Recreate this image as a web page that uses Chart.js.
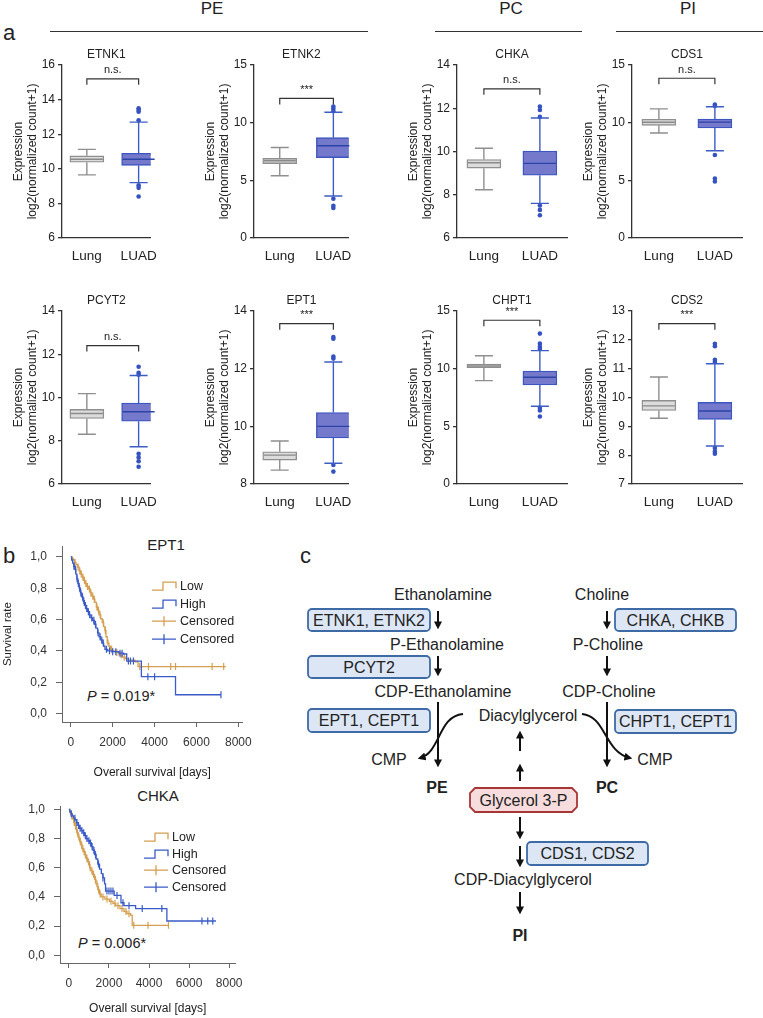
<!DOCTYPE html>
<html>
<head>
<meta charset="utf-8">
<script src="https://cdn.jsdelivr.net/npm/chart.js@4.4.1/dist/chart.umd.min.js"></script>
<style>
  body { margin: 0; background: #fff; }
  #page { position: relative; width: 763px; height: 1018px; overflow: hidden; font-family: "Liberation Sans", Arial, sans-serif; color: #222; }
  canvas { position: absolute; }
  #art { position: absolute; left: 0; top: 0; pointer-events: none; }
</style>
</head>
<body>
<div id="page">
<svg id="art" width="763" height="1018" font-family="Liberation Sans, Arial, sans-serif" fill="#222">
  <defs>
    <marker id="ah" viewBox="0 0 10 10" refX="7" refY="5" markerWidth="4" markerHeight="4" orient="auto">
      <path d="M0,0 L10,5 L0,10 z" fill="#111"/>
    </marker>
  </defs>
  <!-- panel letters and group headers -->
  <g font-size="22"><text x="3" y="40">a</text><text x="3" y="563">b</text><text x="300" y="563">c</text></g>
  <g font-size="17" text-anchor="middle"><text x="212" y="14">PE</text><text x="511" y="14">PC</text><text x="688" y="14">PI</text></g>
  <g stroke="#333" stroke-width="1.2"><line x1="50" y1="31.5" x2="368" y2="31.5"/><line x1="435" y1="31.5" x2="582" y2="31.5"/><line x1="616" y1="31.5" x2="763" y2="31.5"/></g>
  <!-- panel b titles and p values -->
  <g font-size="15" text-anchor="middle"><text x="166" y="550">EPT1</text><text x="158" y="801">CHKA</text></g>
  <g font-size="14.5"><text x="87" y="701"><tspan font-style="italic">P</tspan> = 0.019*</text><text x="78" y="948"><tspan font-style="italic">P</tspan> = 0.006*</text></g>
  <!-- panel c pathway -->
  <g fill="#dce6f4" stroke="#3e6aa6" stroke-width="1.8">
    <rect x="308" y="609" width="122" height="22" rx="4"/>
    <rect x="308" y="656" width="122" height="22" rx="4"/>
    <rect x="308" y="709" width="122" height="23" rx="4"/>
    <rect x="615" y="609" width="121" height="22" rx="4"/>
    <rect x="615" y="710" width="121" height="23" rx="4"/>
    <rect x="527" y="842" width="121" height="23" rx="4"/>
  </g>
  <polygon points="475,788 572,788 577,793 577,807 572,812 475,812 470,807 470,793" fill="#f6dcdc" stroke="#a83535" stroke-width="1.8"/>
  <g font-size="16" text-anchor="middle" dominant-baseline="central">
    <text x="443" y="594">Ethanolamine</text>
    <text x="369" y="620">ETNK1, ETNK2</text>
    <text x="447" y="644">P-Ethanolamine</text>
    <text x="369" y="667">PCYT2</text>
    <text x="443" y="691">CDP-Ethanolamine</text>
    <text x="369" y="720.5">EPT1, CEPT1</text>
    <text x="528" y="715">Diacylglycerol</text>
    <text x="389" y="759">CMP</text>
    <text x="437" y="787" font-weight="bold">PE</text>
    <text x="602" y="594">Choline</text>
    <text x="675.5" y="620">CHKA, CHKB</text>
    <text x="608" y="644">P-Choline</text>
    <text x="609" y="691">CDP-Choline</text>
    <text x="675.5" y="721.5">CHPT1, CEPT1</text>
    <text x="655" y="759">CMP</text>
    <text x="607" y="787" font-weight="bold">PC</text>
    <text x="523.5" y="800">Glycerol 3-P</text>
    <text x="587.5" y="853.5">CDS1, CDS2</text>
    <text x="523" y="879">CDP-Diacylglycerol</text>
    <text x="520" y="935" font-weight="bold">PI</text>
  </g>
  <g stroke="#111" stroke-width="2" fill="none" marker-end="url(#ah)">
    <line x1="438" y1="611" x2="438" y2="627"/>
    <line x1="438" y1="656" x2="438" y2="674"/>
    <line x1="438" y1="702" x2="438" y2="765"/>
    <line x1="607" y1="611" x2="607" y2="627"/>
    <line x1="607" y1="656" x2="607" y2="674"/>
    <line x1="607" y1="702" x2="607" y2="765"/>
    <line x1="520" y1="751" x2="520" y2="733"/>
    <line x1="520" y1="781" x2="520" y2="766"/>
    <line x1="520" y1="817" x2="520" y2="837"/>
    <line x1="520" y1="846" x2="520" y2="865"/>
    <line x1="520" y1="892" x2="520" y2="912"/>
    <path d="M463,714 C438,716 441,752 420,758"/>
    <path d="M582,714 C606,716 604,752 630,758"/>
  </g>
</svg>
</div>
<script>
// ---------- panel a: expression box plots ----------
const genes = ['ETNK1', 'ETNK2', 'CHKA', 'CDS1', 'PCYT2', 'EPT1', 'CHPT1', 'CDS2'];
const groups = ['Lung', 'LUAD'];
// [lower whisker, Q1, median, Q3, upper whisker]
const lungBox = [
  [9.65, 10.38, 10.55, 10.75, 11.12],
  [5.4, 6.45, 6.7, 6.9, 7.85],
  [8.23, 9.23, 9.48, 9.63, 10.15],
  [9.1, 9.77, 10.03, 10.3, 11.2],
  [8.3, 9.03, 9.26, 9.45, 10.18],
  [8.48, 8.83, 9.0, 9.12, 9.49],
  [8.96, 10.08, 10.23, 10.4, 11.12],
  [9.28, 9.55, 9.71, 9.9, 10.71]
];
const luadBox = [
  [9.2, 10.2, 10.55, 10.9, 12.7],
  [3.64, 6.97, 8.0, 8.7, 10.9],
  [7.6, 8.9, 9.45, 10.02, 11.55],
  [7.57, 9.54, 10.05, 10.32, 11.38],
  [7.72, 8.9, 9.34, 9.74, 11.02],
  [8.72, 9.6, 10.0, 10.48, 12.23],
  [6.74, 8.59, 9.25, 9.8, 11.56],
  [8.32, 9.24, 9.53, 9.83, 11.17]
];
const luadOutliers = [
  [13.5, 13.4, 13.3, 12.8, 9.05, 8.9, 8.4],
  [11.4, 11.2, 11.0, 3.4, 2.8, 2.6],
  [12.08, 11.92, 11.6, 7.5, 7.3, 7.05],
  [11.58, 11.45, 7.2, 5.15, 4.9],
  [11.42, 11.14, 11.05, 7.4, 7.23, 7.05, 6.8],
  [13.1, 13.04, 12.42, 12.35, 8.66, 8.43],
  [13.04, 12.17, 11.9, 11.7, 6.6, 6.37, 5.85],
  [11.86, 11.78, 11.31, 11.23, 8.25, 8.13, 8.05]
];
const sigLabels = ['n.s.', '***', 'n.s.', 'n.s.', 'n.s.', '***', '***', '***'];
const sigLevel = [15.2, 12.1, 12.9, 13.85, 12.4, 13.56, 14.2, 12.56];
const boxTicks = [
  [6, 8, 10, 12, 14, 16],
  [0, 5, 10, 15],
  [6, 8, 10, 12, 14],
  [0, 5, 10, 15],
  [6, 8, 10, 12, 14],
  [8, 10, 12, 14],
  [0, 5, 10, 15],
  [7, 8, 9, 10, 11, 12, 13]
];

// ---------- panel b: Kaplan-Meier curves ----------
const kmGenes = ['EPT1', 'CHKA'];
const kmLegend = ['Low', 'High', 'Censored', 'Censored'];
const kmXTicks = [0, 2000, 4000, 6000, 8000];
const kmYTicks = [0, 0.2, 0.4, 0.6, 0.8, 1.0];
// [days, survival] at each step
const ept1Low = [
  [0, 1.0], [60, 0.99], [120, 0.98], [180, 0.965], [250, 0.95], [320, 0.935], [400, 0.91], [470, 0.89],
  [540, 0.87], [610, 0.85], [680, 0.83], [760, 0.81], [850, 0.795], [930, 0.77], [1000, 0.75], [1080, 0.73],
  [1150, 0.71], [1220, 0.68], [1280, 0.66], [1350, 0.63], [1430, 0.605], [1500, 0.58], [1570, 0.555],
  [1630, 0.53], [1680, 0.49], [1740, 0.45], [1820, 0.43], [1900, 0.41], [2000, 0.40], [2130, 0.39],
  [2300, 0.375], [2440, 0.36], [2600, 0.35], [2750, 0.34], [3060, 0.33], [3210, 0.30], [7400, 0.30]
];
const ept1High = [
  [0, 1.0], [40, 0.98], [90, 0.96], [140, 0.94], [190, 0.92], [240, 0.89], [290, 0.86], [340, 0.83],
  [400, 0.80], [460, 0.77], [520, 0.745], [580, 0.72], [650, 0.69], [730, 0.67], [800, 0.65], [880, 0.63],
  [960, 0.61], [1040, 0.595], [1120, 0.57], [1200, 0.545], [1280, 0.515], [1350, 0.49], [1420, 0.47],
  [1500, 0.45], [1570, 0.43], [1630, 0.41], [1760, 0.40], [1970, 0.395], [2300, 0.385], [2520, 0.38],
  [2670, 0.335], [3370, 0.235], [5000, 0.12], [7170, 0.12]
];
const ept1LowCens = [200, 350, 430, 500, 580, 650, 720, 800, 890, 960, 1050, 1120, 1250, 1320, 1400, 1550,
  1650, 1780, 1950, 2200, 2400, 2550, 3290, 3710, 4770, 5000, 6750, 7300];
const ept1HighCens = [150, 230, 300, 360, 420, 480, 560, 620, 700, 760, 840, 900, 1000, 1100, 1180, 1300,
  1400, 1480, 1550, 1700, 1850, 2000, 2150, 2350, 2450, 2750, 2850, 2990, 3680, 4000, 7170];
const chkaLow = [
  [0, 1.0], [40, 0.98], [90, 0.965], [130, 0.955], [180, 0.935], [240, 0.91], [295, 0.89], [350, 0.865],
  [400, 0.84], [460, 0.81], [540, 0.78], [600, 0.755], [660, 0.73], [730, 0.71], [790, 0.69], [860, 0.665],
  [930, 0.64], [1030, 0.60], [1100, 0.58], [1180, 0.555], [1280, 0.52], [1350, 0.49], [1440, 0.45],
  [1520, 0.42], [1610, 0.40], [1800, 0.385], [2020, 0.37], [2200, 0.355], [2340, 0.34], [2550, 0.32],
  [2750, 0.30], [2900, 0.285], [3080, 0.275], [3160, 0.205], [4970, 0.205]
];
const chkaHigh = [
  [0, 1.0], [50, 0.985], [110, 0.97], [170, 0.955], [240, 0.94], [310, 0.93], [380, 0.91], [450, 0.89],
  [530, 0.87], [610, 0.855], [700, 0.84], [780, 0.82], [860, 0.80], [950, 0.785], [1030, 0.77], [1120, 0.745],
  [1200, 0.72], [1280, 0.69], [1360, 0.66], [1440, 0.625], [1530, 0.59], [1620, 0.56], [1700, 0.53],
  [1780, 0.49], [1830, 0.44], [2260, 0.41], [2600, 0.36], [2750, 0.34], [3330, 0.32], [4890, 0.235], [7340, 0.235]
];
const chkaLowCens = [150, 270, 330, 380, 430, 500, 570, 640, 700, 760, 820, 900, 980, 1060, 1150, 1230, 1320,
  1400, 1480, 1560, 1700, 1900, 2100, 2300, 2450, 2650, 2850, 3000, 3240, 3950, 4970];
const chkaHighCens = [120, 300, 400, 480, 560, 650, 740, 820, 900, 1000, 1080, 1160, 1250, 1330, 1480, 1700,
  1900, 2000, 2100, 2200, 2400, 2700, 3000, 3660, 4640, 6640, 6930, 7180];

// ---------- layout and styles ----------
Chart.defaults.font.family = '"Liberation Sans", Arial, sans-serif';
Chart.defaults.color = '#222';
Chart.defaults.animation = false;

const AXIS = '#333';
const BOX_FILL = ['#dcdcdc', '#7479cc'];
const BOX_LINE = ['#8f8f8f', '#3d55bf'];
const WHISKER = ['#8f8f8f', '#3d5cc4'];
const MEDIAN = ['#8a8a8a', '#2c44a8'];
const DOT = '#3552c0';
const ORANGE = '#d49f52';
const BLUE = '#3a5bc8';

const colAxisX = [62, 254, 457, 632];
const colPlotW = [96, 99, 110, 110];
const rowTop = [65, 311];
const PLOT_H = 173;
const TOP_H = 25;
const Y_AXIS_W = 62;
const X_AXIS_H = 30;
const X_MIN = 0.52;
const X_UNIT = 56;
const CAP = 9;

const page = document.getElementById('page');

function addCanvas(left, top, w, h) {
  const c = document.createElement('canvas');
  c.width = w;
  c.height = h;
  c.style.left = left + 'px';
  c.style.top = top + 'px';
  page.appendChild(c);
  return c;
}

function boxParts(i) {
  return {
    id: 'boxParts',
    afterDatasetsDraw(chart) {
      const { ctx, chartArea, scales: { x, y } } = chart;
      const py = v => y.getPixelForValue(v);
      ctx.save();
      [lungBox[i], luadBox[i]].forEach((s, k) => {
        const cx = x.getPixelForValue(k + 1);
        ctx.strokeStyle = WHISKER[k];
        ctx.lineWidth = 1.4;
        ctx.beginPath();
        ctx.moveTo(cx, py(s[0])); ctx.lineTo(cx, py(s[1]));
        ctx.moveTo(cx, py(s[3])); ctx.lineTo(cx, py(s[4]));
        ctx.moveTo(cx - CAP, py(s[0])); ctx.lineTo(cx + CAP, py(s[0]));
        ctx.moveTo(cx - CAP, py(s[4])); ctx.lineTo(cx + CAP, py(s[4]));
        ctx.stroke();
        ctx.strokeStyle = MEDIAN[k];
        ctx.beginPath();
        ctx.moveTo(cx - 16, py(s[2])); ctx.lineTo(cx + 16, py(s[2]));
        ctx.stroke();
      });
      // significance bracket
      const x1 = x.getPixelForValue(1), x2 = x.getPixelForValue(2), by = py(sigLevel[i]);
      ctx.strokeStyle = AXIS;
      ctx.lineWidth = 1.2;
      ctx.beginPath();
      ctx.moveTo(x1, by + 6); ctx.lineTo(x1, by); ctx.lineTo(x2, by); ctx.lineTo(x2, by + 6);
      ctx.stroke();
      ctx.fillStyle = '#222';
      ctx.font = '11px "Liberation Sans", Arial, sans-serif';
      ctx.textAlign = 'center';
      ctx.textBaseline = 'bottom';
      ctx.fillText(sigLabels[i], (x1 + x2) / 2, by - 3);
      // gene name centred over the plot
      ctx.font = '12px "Liberation Sans", Arial, sans-serif';
      ctx.textBaseline = 'middle';
      ctx.fillText(genes[i], (chartArea.left + chartArea.right) / 2, chartArea.top - 10);
      ctx.restore();
    }
  };
}

function drawBox(i) {
  const col = i % 4, row = Math.floor(i / 4);
  const plotW = colPlotW[col];
  const ticks = boxTicks[i];
  const cv = addCanvas(colAxisX[col] - Y_AXIS_W, rowTop[row] - TOP_H, Y_AXIS_W + plotW + 10, TOP_H + PLOT_H + X_AXIS_H);
  new Chart(cv, {
    type: 'bar',
    data: {
      datasets: [
        {
          data: [lungBox[i], luadBox[i]].map((s, k) => ({ x: k + 1, y: [s[1], s[3]] })),
          backgroundColor: BOX_FILL,
          borderColor: BOX_LINE,
          borderWidth: 1.4,
          borderSkipped: false,
          barThickness: 34,
          order: 2
        },
        {
          type: 'scatter',
          data: luadOutliers[i].map(v => ({ x: 2, y: v })),
          pointRadius: 2.3,
          backgroundColor: DOT,
          borderWidth: 0,
          order: 1
        }
      ]
    },
    options: {
      responsive: false,
      layout: { padding: { top: TOP_H, right: 10, left: 0, bottom: 0 } },
      plugins: {
        legend: { display: false },
        tooltip: { enabled: false },
        title: { display: false }
      },
      scales: {
        x: {
          type: 'linear', offset: false,
          min: X_MIN, max: X_MIN + plotW / X_UNIT,
          afterBuildTicks: s => { s.ticks = groups.map((g, k) => ({ value: k + 1 })); },
          afterFit: s => { s.height = X_AXIS_H; },
          ticks: { callback: v => groups[v - 1], font: { size: 13.5 }, padding: 10, color: '#222' },
          grid: { display: false, drawTicks: false },
          border: { color: AXIS, width: 1.3 }
        },
        y: {
          min: ticks[0], max: ticks[ticks.length - 1],
          afterBuildTicks: s => { s.ticks = ticks.map(v => ({ value: v })); },
          afterFit: s => { s.width = Y_AXIS_W; },
          ticks: { font: { size: 12 }, padding: 3, color: '#222' },
          grid: { drawOnChartArea: false, tickLength: 4, color: AXIS, lineWidth: 1.3 },
          border: { color: AXIS, width: 1.3 },
          title: { display: true, text: ['Expression', 'log2(normalized count+1)'], color: '#222', font: { size: 12 }, padding: { top: 11, bottom: 0 } }
        }
      }
    },
    plugins: [boxParts(i)]
  });
}

genes.forEach((g, i) => drawBox(i));

// survival at time t on a step curve
function survAt(curve, t) {
  let s = curve[0][1];
  for (const [ti, si] of curve) {
    if (ti <= t) s = si; else break;
  }
  return s;
}

const kmLayout = [
  { top: 540, bottom: 722, right: 247, axisW: 62, xMin: -420, xMax: 8200, yMin: -0.054, yMax: 1.068, xAxisH: 58,
    yTitle: true, legX: 90, legY: [40, 58, 75, 93] },
  { top: 800, bottom: 963, right: 238, axisW: 60, xMin: -443, xMax: 8313, yMin: -0.053, yMax: 1.022, xAxisH: 53,
    yTitle: false, legX: 84, legY: [31, 48, 64, 81] }
];
const kmCurves = [[ept1Low, ept1High, ept1LowCens, ept1HighCens], [chkaLow, chkaHigh, chkaLowCens, chkaHighCens]];

function legendPlugin(j) {
  return {
    id: 'kmLegend',
    afterDraw(chart) {
      const { ctx, chartArea } = chart;
      const L = kmLayout[j];
      const x0 = chartArea.left + L.legX;
      const colors = [ORANGE, BLUE, ORANGE, BLUE];
      ctx.save();
      kmLegend.forEach((lab, k) => {
        const y = chartArea.top + L.legY[k];
        ctx.strokeStyle = colors[k];
        ctx.lineWidth = 1.3;
        ctx.beginPath();
        if (k < 2) {
          ctx.moveTo(x0, y + 4); ctx.lineTo(x0 + 11, y + 4); ctx.lineTo(x0 + 11, y - 4);
          ctx.lineTo(x0 + 24, y - 4); ctx.lineTo(x0 + 24, y + 2);
        } else {
          ctx.moveTo(x0, y); ctx.lineTo(x0 + 24, y);
          ctx.moveTo(x0 + 12, y - 5); ctx.lineTo(x0 + 12, y + 5);
        }
        ctx.stroke();
        ctx.fillStyle = '#222';
        ctx.font = '12.5px "Liberation Sans", Arial, sans-serif';
        ctx.textBaseline = 'middle';
        ctx.fillText(lab, x0 + 28, y);
      });
      ctx.restore();
    }
  };
}

function drawKM(j) {
  const L = kmLayout[j];
  const [low, high, lowCens, highCens] = kmCurves[j];
  const padTop = 10;
  const cv = addCanvas(0, L.top - padTop, L.right + 13, padTop + (L.bottom - L.top) + L.xAxisH);
  const pts = c => c.map(([x, y]) => ({ x, y }));
  new Chart(cv, {
    type: 'line',
    data: {
      datasets: [
        { type: 'scatter', data: highCens.map(t => ({ x: t, y: survAt(high, t) })), pointStyle: 'line', rotation: 90,
          pointRadius: 3.5, borderColor: BLUE, borderWidth: 1.2 },
        { data: pts(high), stepped: 'before', borderColor: BLUE, borderWidth: 1.3, pointRadius: 0, fill: false },
        { type: 'scatter', data: lowCens.map(t => ({ x: t, y: survAt(low, t) })), pointStyle: 'line', rotation: 90,
          pointRadius: 3.5, borderColor: ORANGE, borderWidth: 1.2 },
        { data: pts(low), stepped: 'before', borderColor: ORANGE, borderWidth: 1.3, pointRadius: 0, fill: false }
      ]
    },
    options: {
      responsive: false,
      layout: { padding: { top: padTop, right: 13, left: 0, bottom: 0 } },
      plugins: { legend: { display: false }, tooltip: { enabled: false } },
      scales: {
        x: {
          type: 'linear', min: L.xMin, max: L.xMax,
          afterBuildTicks: s => { s.ticks = kmXTicks.map(v => ({ value: v })); },
          afterFit: s => { s.height = L.xAxisH; },
          ticks: { callback: v => String(v), font: { size: 12 }, padding: 8, color: '#333' },
          grid: { drawOnChartArea: false, tickLength: 5, color: '#666' },
          border: { color: '#666', width: 1 },
          title: { display: true, text: 'Overall survival [days]', font: { size: 12 }, color: '#222', padding: 0 }
        },
        y: {
          min: L.yMin, max: L.yMax,
          afterBuildTicks: s => { s.ticks = kmYTicks.map(v => ({ value: v })); },
          afterFit: s => { s.width = L.axisW; },
          ticks: { callback: v => v.toFixed(1).replace('.', ','), font: { size: 12 }, padding: 9, color: '#333' },
          grid: { drawOnChartArea: false, tickLength: 6, color: '#666' },
          border: { color: '#666', width: 1 },
          title: { display: L.yTitle, text: 'Survival rate', font: { size: 11.5 }, color: '#222', padding: { top: 1, bottom: 0 } }
        }
      }
    },
    plugins: [legendPlugin(j)]
  });
}

kmGenes.forEach((g, j) => drawKM(j));
</script>
</body>
</html>
